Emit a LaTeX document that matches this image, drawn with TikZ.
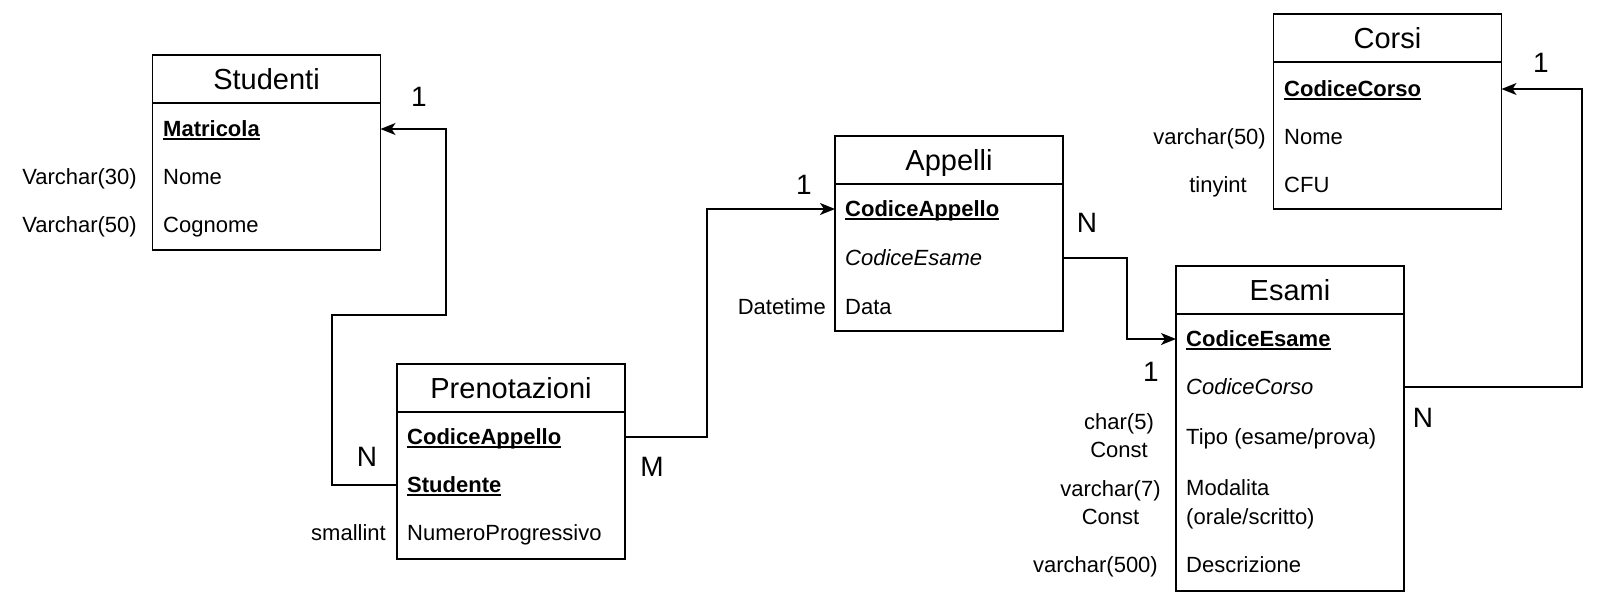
\documentclass[tikz,border=0pt]{standalone}
\usepackage{fontspec}
\setmainfont{Liberation Sans}
\usetikzlibrary{arrows.meta,positioning}
\newcommand{\pkey}[1]{\sbox0{\bfseries #1}\rlap{\usebox0}\rule[-3pt]{\wd0}{1.5pt}}

\begin{document}
\begin{tikzpicture}[x=1pt, y=-1pt,
  head/.style={draw, line width=1.4pt, minimum width=228pt, minimum height=48pt,
               outer sep=0pt, inner sep=0pt, font=\fontsize{29}{34}\selectfont,
               text height=20.8pt, text depth=0pt},
  tbody/.style={draw, line width=1.4pt, minimum width=228pt, outer sep=0pt, inner sep=0pt},
  plain/.style={inner sep=0pt, font=\fontsize{22}{29}\selectfont},
  field/.style={plain, anchor=west, text height=15.8pt, text depth=0pt},
  dtype/.style={field, anchor=east},
  card/.style={inner sep=0pt, font=\fontsize{28}{32}\selectfont},
  rel/.style={-{Stealth[length=15pt, width=12pt, inset=4pt]}, line width=1.5pt}
]
  \useasboundingbox (0,0) rectangle (1601,614);

  % Studenti
  \node[head] (stud) at (266.5,79) {Studenti};
  \node[tbody, minimum height=147pt, below=0pt of stud] (studb) {};
  \node[field] (smatr) at (163,129) {\pkey{Matricola}};
  \node[field] (snome) at (163,177) {Nome};
  \node[field] (scogn) at (163,225) {Cognome};
  \node[dtype] (tsnome) at (137,177) {Varchar(30)};
  \node[dtype] (tscogn) at (137,225) {Varchar(50)};

  % Prenotazioni
  \node[head] (pren) at (511,388) {Prenotazioni};
  \node[tbody, minimum height=147pt, below=0pt of pren] (prenb) {};
  \node[field] (pcod) at (407,437) {\pkey{CodiceAppello}};
  \node[field] (pstud) at (407,485) {\pkey{Studente}};
  \node[field] (pnum) at (407,533) {NumeroProgressivo};
  \node[dtype] (tpnum) at (386,533) {smallint};

  % Appelli
  \node[head] (app) at (949,160) {Appelli};
  \node[tbody, minimum height=147pt, below=0pt of app] (appb) {};
  \node[field] (acod) at (845,209) {\pkey{CodiceAppello}};
  \node[field] (aesame) at (845,258) {\textit{CodiceEsame}};
  \node[field] (adata) at (845,307) {Data};
  \node[dtype] (tadata) at (826,307) {Datetime};

  % Esami
  \node[head] (es) at (1290,290) {Esami};
  \node[tbody, minimum height=277pt, below=0pt of es] (esb) {};
  \node[field] (ecod) at (1186,339) {\pkey{CodiceEsame}};
  \node[field] (ecorso) at (1186,387) {\textit{CodiceCorso}};
  \node[field] (etipo) at (1186,437) {Tipo (esame/prova)};
  \node[plain, anchor=west, align=left] (emod) at (1186,504) {Modalita\\(orale/scritto)};
  \node[field] (edesc) at (1186,565) {Descrizione};
  \node[plain, align=center, font=\fontsize{22}{28}\selectfont] (tetipo) at (1119,436) {char(5)\\Const};
  \node[plain, align=center, font=\fontsize{22}{28}\selectfont] (temod) at (1110.5,503) {varchar(7)\\Const};
  \node[dtype] (tedesc) at (1158,565) {varchar(500)};

  % Corsi
  \node[head] (cors) at (1387.5,38) {Corsi};
  \node[tbody, minimum height=147pt, below=0pt of cors] (corsb) {};
  \node[field] (ccod) at (1284,89) {\pkey{CodiceCorso}};
  \node[field] (cnome) at (1284,137) {Nome};
  \node[field] (ccfu) at (1284,185) {CFU};
  \node[dtype] (tcnome) at (1266,137) {varchar(50)};
  \node[dtype] (tccfu) at (1247,185) {tinyint};

  % relazioni
  \coordinate (k1) at (332,315);
  \coordinate (k2) at (446,315);
  \coordinate (k3) at (707,320);
  \coordinate (k4) at (1127,300);
  \coordinate (k5) at (1582,240);
  \draw[rel] (prenb.west |- pstud.west) -| (k1) -- (k2) |- (studb.east |- smatr.west);
  \draw[rel] (prenb.east |- pcod.west) -| (k3) |- (appb.west |- acod.west);
  \draw[rel] (appb.east |- aesame.west) -| (k4) |- (esb.west |- ecod.west);
  \draw[rel] (esb.east |- ecorso.west) -| (k5) |- (corsb.east |- ccod.west);

  \node[card] (c1) at (419,97) {1};
  \node[card] (c2) at (367,457) {N};
  \node[card] (c3) at (652,467) {M};
  \node[card] (c4) at (804,185) {1};
  \node[card] (c5) at (1087,223) {N};
  \node[card] (c6) at (1151,372) {1};
  \node[card] (c7) at (1423,418) {N};
  \node[card] (c8) at (1541,63) {1};
\end{tikzpicture}
\end{document}
